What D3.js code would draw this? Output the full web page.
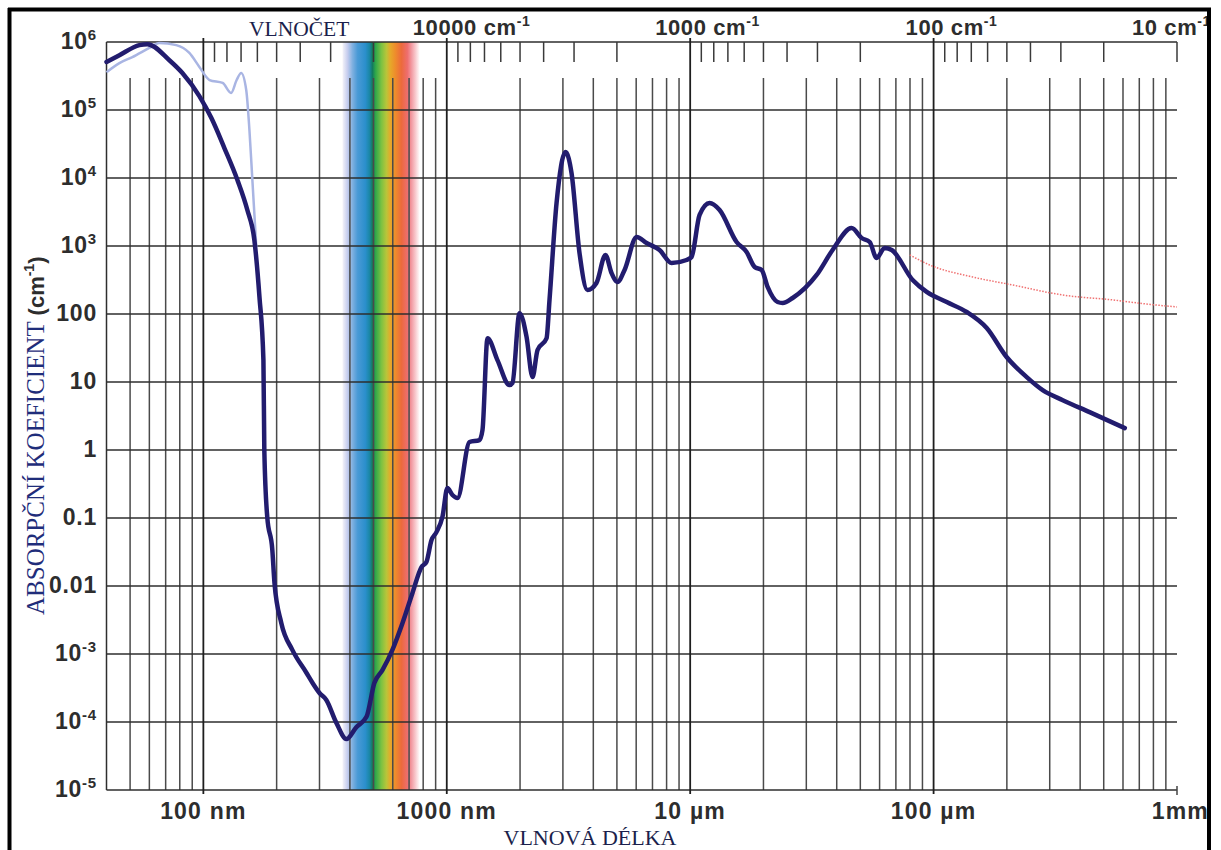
<!DOCTYPE html>
<html><head><meta charset="utf-8">
<script src="https://cdn.jsdelivr.net/npm/d3@7"></script>
<style>body{margin:0;background:#fff}</style>
</head><body><svg id="c" width="1221" height="850"></svg>
<script>
// ---- data ----
const mainNm = [40,45.2,54.6,58.9,72.5,82,96.3,107.9,122,138,151.6,162,170,176.5,178,183,192,196,209,232,265,281,300,320,352,387,425,468,504,544,598,658,723,787,825,865,907,960,1006,1055,1107,1240,1362,1402,1470,1615,1810,1862,1990,2127,2250,2360,2570,2643,2825,3076,3254,3510,3785,4120,4487,4752,5030,5376,6025,6620,7485,8386,9660,10130,10930,12020,13210,15510,17050,18400,19660,20800,22860,23980,26360,33080,38460,46070,50640,54640,58340,62950,67300,82040,93680,113200,136800,165300,199500,241300,280600,339400,437500,610300];
const mainAbs = [5.1e5,6.4e5,9.0e5,9.3e5,5.4e5,3.5e5,1.6e5,7.6e4,2.76e4,9350,3380,1225,178,21,1.0,0.104,0.034,0.011,2.86e-3,1.15e-3,5.3e-4,3.75e-4,2.67e-4,2.11e-4,9.7e-5,5.6e-5,8.4e-5,1.19e-4,3.75e-4,5.8e-4,1.15e-3,2.86e-3,7.9e-3,0.019,0.0226,0.047,0.062,0.104,0.276,0.218,0.197,1.31,1.40,1.97,44,21,9.0,9.7,103,46,11.8,29.6,44,161,4290,2.41e4,1.19e4,789,225,286,738,401,296,444,1355,1107,873,562,622,689,2860,4290,3380,1145,817,491,444,250,150,145,172,375,873,1840,1312,1145,667,935,873,316,211,150,107,62.2,23.3,11.8,7.6,5.4,3.6,2.1];

const lightNm = [40,45.2,51.1,60,65.9,77.4,87.6,96.3,106,120,130,137,143,150,154.6,159,165];
const lightAbs = [3.6e5,4.9e5,6.0e5,8.2e5,9.7e5,9.0e5,6.9e5,4.3e5,2.76e5,2.5e5,1.78e5,2.76e5,3.5e5,1.97e5,5.1e4,9300,966];

const redNm = [79800,96400,144800,211400,339400,544600,751600,1e6];
const redAbs = [738,526,350,267,190,161,140,127];

const specNm = [373,391,410,430,463,481,495,509,539,565,587,615,651,689,716,743,775];
const specColors = ["#f4f3f9","#c6cdee","#7fb0e0","#4a9ad6","#2b8fcc","#1a87a6","#137a5e","#2ea64a","#7cc242","#b8c53a","#e6a82a","#ee8c2c","#ec6a3c","#ee6e6e","#f29aa2","#f8c8cc","#ffffff"];

const yTickBase = ["10","10","10","0.01","0.1","1","10","100","10","10","10","10"];
const yTickExp  = ["-5","-4","-3","","","","","","3","4","5","6"];

const bottomLabelNm = [100,1000,1e4,1e5,1e6];
const bottomLabels = ["100 nm","1000 nm","10 \u00b5m","100 \u00b5m","1mm"];
const topLabelNu = [10000,1000,100,10];
const topLabels = ["10000","1000","100","10"];

// ---- setup ----
const SANS = "'Liberation Sans', Arial, sans-serif";
const SERIF = "'Liberation Serif', 'Times New Roman', serif";
const svg = d3.select("#c");
const x = d3.scaleLog().domain([40,1e6]).range([106.5,1177]);
const y = d3.scaleLog().domain([1e-5,1e6]).range([790,42]);
const nu = d3.scaleLog().domain([1e7/40,10]);
const isDecade = v => Math.abs(Math.log10(v) - Math.round(Math.log10(v))) < 1e-9;

svg.append("rect").attr("width",1221).attr("height",850).attr("fill","#fff");

// spectrum band
const defs = svg.append("defs");
const bx1 = x(specNm[0]), bx2 = x(specNm[specNm.length-1]);
const grad = defs.append("linearGradient").attr("id","spec")
  .attr("gradientUnits","userSpaceOnUse").attr("x1",bx1).attr("x2",bx2).attr("y1",0).attr("y2",0);
specNm.forEach((n,i)=>grad.append("stop").attr("offset",(x(n)-bx1)/(bx2-bx1)).attr("stop-color",specColors[i]));
svg.append("rect").attr("x",bx1).attr("y",y(1e6)).attr("width",bx2-bx1).attr("height",y(1e-5)-y(1e6)).attr("fill","url(#spec)");

// grid
const g = svg.append("g");
const xt = x.ticks();
g.selectAll(".minor").data(xt.filter(t=>!isDecade(t) && t>40.5)).join("line")
  .attr("x1",d=>x(d)).attr("x2",d=>x(d)).attr("y1",78).attr("y2",y(1e-5))
  .attr("stroke","#4a4a4a").attr("stroke-width",1.5);
g.selectAll(".hz").data(y.ticks().filter(isDecade)).join("line")
  .attr("x1",x(40)).attr("x2",x(1e6)).attr("y1",d=>y(d)).attr("y2",d=>y(d))
  .attr("stroke","#2e2e2e").attr("stroke-width",1.5);
g.append("line").attr("x1",x(40)).attr("x2",x(40)).attr("y1",y(1e6)).attr("y2",y(1e-5)).attr("stroke","#2e2e2e").attr("stroke-width",1.5);
g.selectAll(".major").data(xt.filter(t=>isDecade(t) && t<1e6)).join("line")
  .attr("x1",d=>x(d)).attr("x2",d=>x(d)).attr("y1",38).attr("y2",794)
  .attr("stroke","#1e1e1e").attr("stroke-width",1.8);
g.append("line").attr("x1",x(1e6)).attr("x2",x(1e6)).attr("y1",786).attr("y2",795).attr("stroke","#444").attr("stroke-width",1.5);
// wavenumber ticks
g.selectAll(".wn").data(nu.ticks().filter(v=>v<=90000 && (!isDecade(v) || v===10))).join("line")
  .attr("x1",d=>x(1e7/d)).attr("x2",d=>x(1e7/d)).attr("y1",y(1e6)).attr("y2",62)
  .attr("stroke","#3a3a3a").attr("stroke-width",1.5);

// curves
const line = (xs, ys) => d3.line().x((d,i)=>x(xs[i])).y((d,i)=>y(ys[i])).curve(d3.curveMonotoneX)(xs);
svg.append("path").attr("d",line(lightNm,lightAbs)).attr("fill","none").attr("stroke","#a9b5e3").attr("stroke-width",2.5);
svg.append("path").attr("d",line(redNm,redAbs)).attr("fill","none").attr("stroke","#f07272").attr("stroke-width",1.5).attr("stroke-dasharray","1.5,1.5");
svg.append("path").attr("d",line(mainNm,mainAbs)).attr("fill","none").attr("stroke","#221c6e").attr("stroke-width",4.5).attr("stroke-linejoin","round").attr("stroke-linecap","round");

// y labels
const yv = y.ticks().filter(isDecade);
yv.forEach((v,i)=>{
  const t = svg.append("text").attr("x",97).attr("y",y(v)+7).attr("text-anchor","end")
    .attr("font-family",SANS).attr("font-weight","bold").attr("font-size",23).attr("fill","#2d2d2d").attr("letter-spacing",0.8);
  t.append("tspan").text(yTickBase[i]);
  if (yTickExp[i]) t.append("tspan").attr("dy",-9).attr("font-size",15).text(yTickExp[i]);
});

// bottom labels
bottomLabelNm.forEach((v,i)=>{
  const last = i===bottomLabelNm.length-1;
  svg.append("text").attr("x", last?1209:x(v)).attr("y",819).attr("text-anchor", last?"end":"middle")
    .attr("font-family",SANS).attr("font-weight","bold").attr("font-size",23).attr("fill","#2d2d2d").attr("letter-spacing",1.2)
    .text(bottomLabels[i]);
});

// top labels (wavenumber)
const topOff = [34,35,28];
topLabelNu.forEach((v,i)=>{
  const last = i===topLabelNu.length-1;
  const t = svg.append("text").attr("x", last?1211:x(1e7/v)-topOff[i]).attr("y",35).attr("text-anchor", last?"end":"start")
    .attr("font-family",SANS).attr("font-weight","bold").attr("font-size",22).attr("fill","#2d2d2d").attr("letter-spacing",0.6);
  t.append("tspan").text(topLabels[i] + " cm");
  t.append("tspan").attr("dy",-9).attr("font-size",14).text("-1");
});

// titles
svg.append("text").attr("x",249).attr("y",36).attr("font-family",SERIF).attr("font-size",21.5).attr("fill","#1b1f4c").text("VLNOČET");
svg.append("text").attr("x",590).attr("y",845).attr("text-anchor","middle").attr("font-family",SERIF).attr("font-size",22).attr("fill","#1b1f4c").text("VLNOVÁ DÉLKA");
const yt = svg.append("text").attr("transform","translate(44,615) rotate(-90)").attr("font-size",25);
yt.append("tspan").attr("font-family",SERIF).attr("fill","#1f2d7a").text("ABSORPČNÍ KOEFICIENT ");
yt.append("tspan").attr("font-family",SANS).attr("font-weight","bold").attr("font-size",22).attr("fill","#2d2d2d").text("(cm");
yt.append("tspan").attr("font-family",SANS).attr("font-weight","bold").attr("font-size",14).attr("dy",-10).attr("fill","#2d2d2d").text("-1");
yt.append("tspan").attr("font-family",SANS).attr("font-weight","bold").attr("font-size",22).attr("dy",10).attr("fill","#2d2d2d").text(")");

// frame
const fr = svg.append("g").attr("stroke","#000").attr("stroke-width",4);
fr.append("line").attr("x1",8).attr("x2",1211).attr("y1",9.5).attr("y2",9.5);
fr.append("line").attr("x1",9.5).attr("x2",9.5).attr("y1",8).attr("y2",850);
fr.append("line").attr("x1",1209).attr("x2",1209).attr("y1",8).attr("y2",850);
</script></body></html>
